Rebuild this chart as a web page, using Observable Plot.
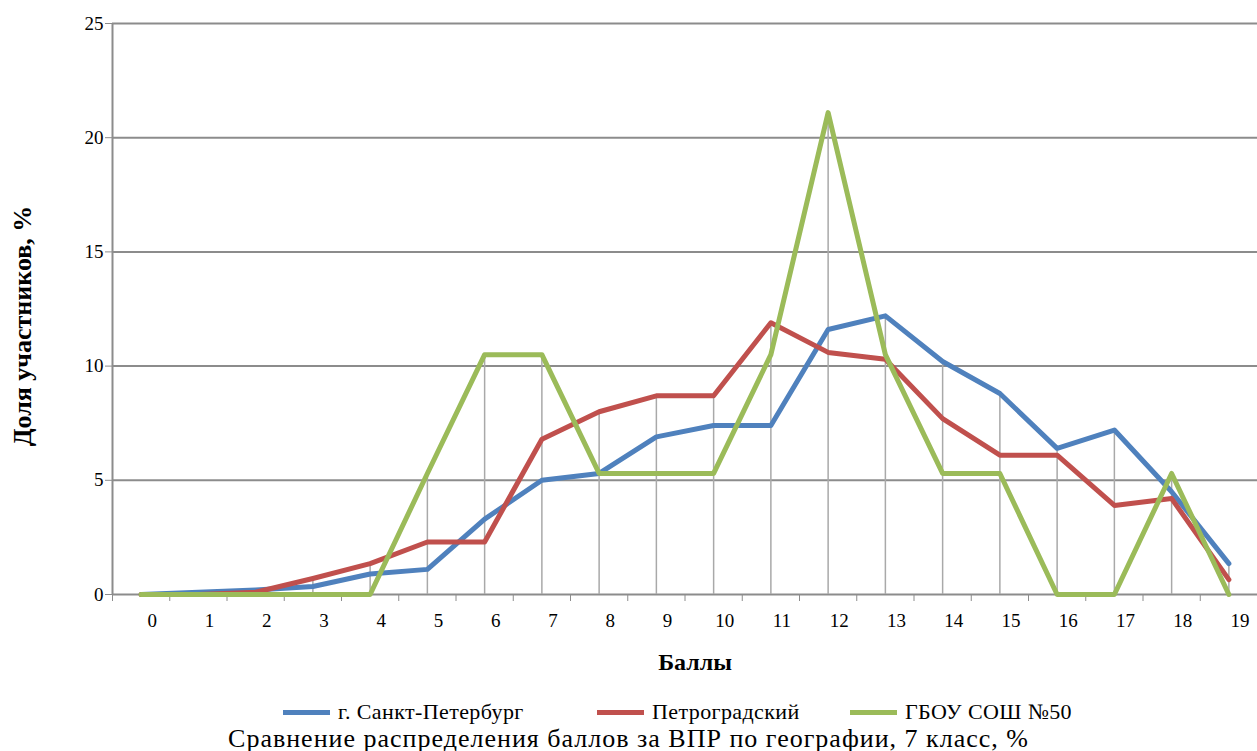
<!DOCTYPE html>
<html>
<head>
<meta charset="utf-8">
<script src="https://cdn.jsdelivr.net/npm/d3@7"></script>
<script src="https://cdn.jsdelivr.net/npm/@observablehq/plot@0.6"></script>
<style>
  body { margin: 0; background: #fff; }
  #wrap { position: relative; width: 1257px; height: 751px; font-family: "Liberation Serif", "Times New Roman", "Liberation Sans", Arial, sans-serif; color: #000; }
  #chart { position: absolute; left: 0; top: 0; }
  .leg { position: absolute; font-size: 22px; line-height: 22px; white-space: nowrap; letter-spacing: 0.4px; }
  .sw { position: absolute; height: 5px; width: 47px; }
  #title { position: absolute; left: 0; width: 1257px; text-align: center; font-size: 26px; line-height: 26px; white-space: nowrap; letter-spacing: 1px; }
</style>
</head>
<body>
<div id="wrap">
  <div id="chart"></div>
  <div id="legend"></div>
  <div id="title"></div>
</div>
<script>
// ---- data ----
const scores = d3.range(0, 20);
const seriesNames = ["г. Санкт-Петербург", "Петроградский", "ГБОУ СОШ №50"];
const seriesColors = ["#4F81BD", "#C0504D", "#9BBB59"];
const spb    = [0, 0.1, 0.2, 0.35, 0.9, 1.1, 3.3, 5.0, 5.3, 6.9, 7.4, 7.4, 11.6, 12.2, 10.2, 8.8, 6.4, 7.2, 4.5, 1.35];
const petro  = [0, 0, 0.1, 0.7, 1.35, 2.3, 2.3, 6.8, 8.0, 8.7, 8.7, 11.9, 10.6, 10.3, 7.7, 6.1, 6.1, 3.9, 4.2, 0.65];
const school = [0, 0, 0, 0, 0, 5.3, 10.5, 10.5, 5.3, 5.3, 5.3, 10.5, 21.1, 10.5, 5.3, 5.3, 0, 0, 5.3, 0];
const yTicks = [0, 5, 10, 15, 20, 25];
const xLabel = "Баллы";
const yLabel = "Доля участников, %";
const titleText = "Сравнение распределения баллов за ВПР по географии, 7 класс, %";

// ---- tables built from arrays ----
const allSeries = [spb, petro, school];
const long = [];
allSeries.forEach((arr, i) => arr.forEach((v, k) => long.push({series: seriesNames[i], score: scores[k], value: v})));
const drops = scores.map((s, k) => ({score: s, max: Math.max(spb[k], petro[k], school[k])}));
const bounds = d3.range(-0.5, 20, 1);
const font = "'Liberation Serif', 'Times New Roman', 'Liberation Sans', Arial, sans-serif";

const chart = Plot.plot({
  width: 1257,
  height: 690,
  marginTop: 23,
  marginBottom: 96,
  marginLeft: 112,
  marginRight: 0,
  x: {type: "linear", domain: [-0.5, 19.5]},
  y: {domain: [0, 25]},
  color: {domain: seriesNames, range: seriesColors},
  style: {fontFamily: font, fontSize: "19px", color: "#000", background: "#fff", overflow: "visible"},
  marks: [
    Plot.ruleY(yTicks, {stroke: "#8c8c8c", strokeWidth: 2}),
    Plot.ruleX(drops, {x: "score", y1: 0, y2: "max", stroke: "#a9a9a9", strokeWidth: 1.5}),
    Plot.ruleX([-0.5], {stroke: "#8c8c8c", strokeWidth: 2}),
    Plot.axisY({ticks: yTicks, tickSize: 7, tickPadding: 2, stroke: "#8c8c8c", label: null, fontSize: 19}),
    Plot.axisX({ticks: bounds, tickSize: 7, tickFormat: () => "", stroke: "#8c8c8c", label: null}),
    Plot.axisX({ticks: scores, tickSize: 0, tickPadding: 19, dx: 11, label: null, fontSize: 19}),
    Plot.line(long, {x: "score", y: "value", stroke: "series", z: "series", strokeWidth: 5, strokeLinejoin: "round", strokeLinecap: "round"}),
    Plot.text([xLabel], {frameAnchor: "bottom", lineAnchor: "middle", dy: 68, dx: 10, fontWeight: "bold", fontSize: 24}),
    Plot.text([yLabel], {frameAnchor: "left", textAnchor: "middle", lineAnchor: "middle", dx: -90, dy: 17, rotate: -90, fontWeight: "bold", fontSize: 26})
  ]
});
document.getElementById("chart").appendChild(chart);

// ---- legend ----
const legendLefts = [283, 597, 850];
const legend = document.getElementById("legend");
seriesNames.forEach((name, i) => {
  const sw = document.createElement("div");
  sw.className = "sw";
  sw.style.left = legendLefts[i] + "px";
  sw.style.top = "710px";
  sw.style.background = seriesColors[i];
  legend.appendChild(sw);
  const t = document.createElement("div");
  t.className = "leg";
  t.style.left = (legendLefts[i] + 55) + "px";
  t.style.top = "701px";
  t.textContent = name;
  legend.appendChild(t);
});
const title = document.getElementById("title");
title.style.top = "726px";
title.textContent = titleText;
</script>
</body>
</html>
